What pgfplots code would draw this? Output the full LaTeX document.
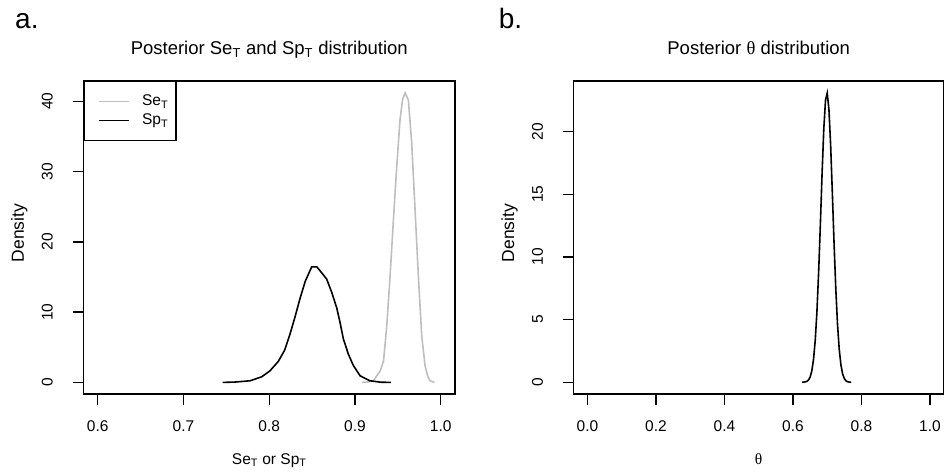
\documentclass[border=0pt]{standalone}
\usepackage{pgfplots}
\pgfplotsset{compat=1.18}
\usepackage{fontspec}
\setmainfont{Liberation Sans}
\newfontfamily\greekserif{Liberation Serif}
\definecolor{rgrey}{RGB}{190,190,190}
\newcommand{\sub}[1]{\textsubscript{#1}}
\pgfplotsset{
  rstyle/.style={
    scale only axis, height=313bp, anchor=south west,
    axis line style={line width=1.5bp},
    xtick pos=bottom, ytick pos=left,
    tick align=outside, major tick length=10.5bp,
    tick style={line width=1.3bp, black},
    minor tick num=0,
    /pgf/number format/assume math mode=true,
    ticklabel style={font=\fontsize{15.5bp}{18bp}\selectfont, inner sep=0pt},
    xticklabel style={anchor=north, yshift=-15.5bp},
    yticklabel style={xshift=-20bp, rotate=90, anchor=south},
    every axis title/.style={at={(0.5,1)}, anchor=base, yshift=26bp, font=\fontsize{18.5bp}{21bp}\selectfont},
    every axis x label/.style={at={(axis description cs:0.5,0)}, anchor=base, yshift=-70.3bp, font=\fontsize{15.5bp}{18bp}\selectfont},
    every axis y label/.style={at={(axis description cs:0,0.514)}, xshift=-59.5bp, rotate=90, anchor=base, font=\fontsize{17.5bp}{20bp}\selectfont},
    scaled ticks=false,
  }
}
\begin{document}
\begin{tikzpicture}
\path[use as bounding box] (0bp,0bp) rectangle (944bp,473bp);
\node[anchor=base west, inner sep=0pt, font=\fontsize{28bp}{30bp}\selectfont] at (15bp,444bp) {a.};
\node[anchor=base west, inner sep=0pt, font=\fontsize{28bp}{30bp}\selectfont] at (498.7bp,444bp) {b.};
\begin{axis}[rstyle, width=371.5bp,
  at={(83.5bp,79bp)},
  xmin=0.5834, xmax=1.0166, ymin=-1.65, ymax=42.9,
  xtick={0.6,0.7,0.8,0.9,1.0},
  xticklabels={0.6,0.7,0.8,0.9,1.0},
  ytick={0,10,20,30,40},
  title={Posterior Se\sub{T} and Sp\sub{T} distribution},
  xlabel={Se\sub{T} or Sp\sub{T}},
  ylabel={Density},
]
\addplot[rgrey, line width=1.6bp] coordinates {
(0.9079,0) (0.915,0.05) (0.9214,0.23) (0.9292,1.6) (0.9332,3.0) (0.9370,8.0)
(0.9409,15.1) (0.9448,23.2) (0.9487,30.8) (0.9525,37.4) (0.9555,40.3) (0.9584,41.2)
(0.9622,40.2) (0.9661,34.1) (0.9700,24.6) (0.9739,15.1) (0.9778,6.6) (0.9817,2.36)
(0.9850,0.8) (0.9875,0.23) (0.9926,0)
};
\addplot[black, line width=1.6bp] coordinates {
(0.7457,0) (0.760,0.05) (0.7776,0.23) (0.7912,0.80) (0.8009,1.65) (0.8106,3.0)
(0.818,4.6) (0.824,6.8) (0.830,9.3) (0.836,12.0) (0.842,14.4) (0.8495,16.45)
(0.8554,16.45) (0.8592,15.9) (0.8670,14.7) (0.8729,12.8) (0.8787,10.6) (0.8826,8.5)
(0.8864,6.2) (0.8923,4.0) (0.8981,2.4) (0.9059,0.94) (0.9175,0.23) (0.9300,0.03) (0.9417,0)
};
% legend box
\node[anchor=north west, draw=black, line width=1.4bp, inner sep=0pt,
      minimum width=91.7bp, minimum height=59bp] (leg) at (rel axis cs:0,1) {};
\draw[rgrey, line width=1.6bp] ([xshift=15bp,yshift=-20.7bp]leg.north west) -- ++(30bp,0bp);
\draw[black, line width=1.6bp] ([xshift=15bp,yshift=-39.7bp]leg.north west) -- ++(30bp,0bp);
\node[anchor=west, inner sep=0pt, font=\fontsize{15.5bp}{18bp}\selectfont]
   at ([xshift=58.4bp,yshift=-20.7bp]leg.north west) {Se\sub{T}};
\node[anchor=west, inner sep=0pt, font=\fontsize{15.5bp}{18bp}\selectfont]
   at ([xshift=58.4bp,yshift=-39.7bp]leg.north west) {Sp\sub{T}};
\end{axis}
\begin{axis}[rstyle, width=370bp,
  at={(573.7bp,79bp)},
  xmin=-0.04, xmax=1.04, ymin=-0.924, ymax=24.02,
  xtick={0,0.2,0.4,0.6,0.8,1.0},
  xticklabels={0.0,0.2,0.4,0.6,0.8,1.0},
  ytick={0,5,10,15,20},
  title={Posterior {\greekserif θ} distribution},
  xlabel={{\greekserif θ}},
  ylabel={Density},
]
\addplot[black, line width=1.6bp] coordinates {
(0.627,0.004) (0.64,0.069) (0.645,0.18) (0.65,0.42) (0.655,0.91) (0.66,1.82)
(0.665,3.35) (0.67,5.67) (0.675,8.83) (0.68,12.6) (0.685,16.66) (0.69,20.2)
(0.695,22.49) (0.70,23.06) (0.705,21.75) (0.71,18.9) (0.715,15.06) (0.72,11.06)
(0.725,7.47) (0.73,4.64) (0.735,2.65) (0.74,1.39) (0.745,0.67) (0.75,0.30)
(0.755,0.12) (0.76,0.046) (0.77,0.003)
};
\end{axis}
\end{tikzpicture}
\end{document}
